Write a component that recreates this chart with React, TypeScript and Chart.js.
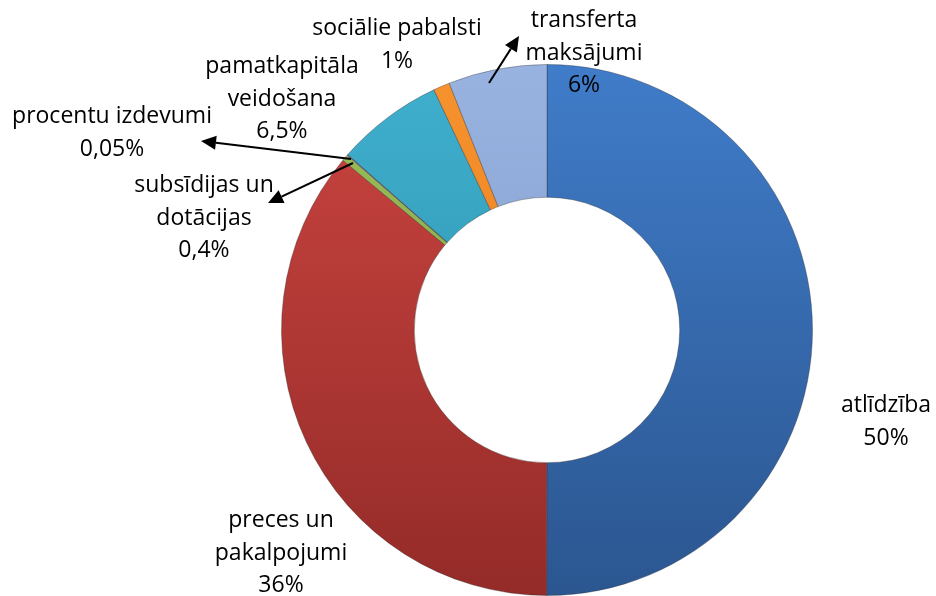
import React, { useEffect, useRef } from "react";
import { Chart, registerables } from "chart.js";

Chart.register(...registerables);

// ---- data ----
const categories = [
  "atlīdzība",
  "preces un\npakalpojumi",
  "subsīdijas un\ndotācijas",
  "procentu izdevumi",
  "pamatkapitāla\nveidošana",
  "sociālie pabalsti",
  "transferta\nmaksājumi",
];
const values = [50, 36, 0.4, 0.05, 6.5, 1, 6];

// ---- styles ----
const colorsTop = ["#407cc9", "#cc4541", "#9cc05a", "#8a6cb0", "#3fb0ce", "#f7932f", "#98b3e0"];
const colorsBottom = ["#2b5690", "#942b28", "#7a9a3e", "#6a4f8c", "#2a8aa6", "#e07818", "#7a96c6"];

// label anchor (centre x, first baseline y) in canvas pixels
const labelPos = [
  { x: 886, y: 412 },
  { x: 281, y: 527 },
  { x: 204, y: 192 },
  { x: 112, y: 123 },
  { x: 282, y: 73 },
  { x: 397, y: 35 },
  { x: 584, y: 27 },
];
const arrows = [
  { from: { x: 489, y: 83 }, to: { x: 519, y: 36 } },
  { from: { x: 351, y: 159 }, to: { x: 201, y: 141 } },
  { from: { x: 353, y: 163 }, to: { x: 268, y: 203 } },
];

const FONT = "23px 'Open Sans', Lato, sans-serif";
const LINE_H = 32.5;

const fmt = (v: number) => String(v).replace(".", ",") + "%";

const labelsPlugin = {
  id: "customLabels",
  afterDraw(chart: any) {
    const ctx = chart.ctx as CanvasRenderingContext2D;
    ctx.save();
    ctx.strokeStyle = "#000";
    ctx.fillStyle = "#000";
    ctx.lineWidth = 2;
    for (const a of arrows) {
      const dx = a.to.x - a.from.x;
      const dy = a.to.y - a.from.y;
      const len = Math.hypot(dx, dy);
      const ux = dx / len;
      const uy = dy / len;
      const headL = 15;
      const headW = 7;
      const bx = a.to.x - ux * headL;
      const by = a.to.y - uy * headL;
      ctx.beginPath();
      ctx.moveTo(a.from.x, a.from.y);
      ctx.lineTo(bx, by);
      ctx.stroke();
      ctx.beginPath();
      ctx.moveTo(a.to.x, a.to.y);
      ctx.lineTo(bx - uy * headW, by + ux * headW);
      ctx.lineTo(bx + uy * headW, by - ux * headW);
      ctx.closePath();
      ctx.fill();
    }
    ctx.font = FONT;
    ctx.textAlign = "center";
    ctx.textBaseline = "alphabetic";
    ctx.fillStyle = "#000";
    categories.forEach((name, i) => {
      const lines = [...name.split("\n"), fmt(values[i])];
      const p = labelPos[i];
      lines.forEach((ln, k) => ctx.fillText(ln, p.x, p.y + k * LINE_H));
    });
    ctx.restore();
  },
};

export default function App() {
  const ref = useRef<HTMLCanvasElement | null>(null);
  useEffect(() => {
    if (!ref.current) return;
    const chart = new Chart(ref.current, {
      type: "doughnut",
      data: {
        labels: categories,
        datasets: [
          {
            data: values,
            backgroundColor: (c: any) => {
              const ch = c.chart;
              const area = ch.chartArea;
              const i = c.dataIndex;
              if (!area) return colorsTop[i];
              const g = ch.ctx.createLinearGradient(0, area.top, 0, area.bottom);
              g.addColorStop(0, colorsTop[i]);
              g.addColorStop(1, colorsBottom[i]);
              return g;
            },
            borderColor: "rgba(40,40,40,0.35)",
            borderWidth: 1,
          },
        ],
      },
      options: {
        responsive: false,
        devicePixelRatio: 1,
        animation: false,
        cutout: "50%",
        layout: { padding: { left: 281, right: 123, top: 64, bottom: 0 } },
        plugins: {
          legend: { display: false },
          tooltip: { enabled: false },
        },
      },
      plugins: [labelsPlugin],
    });
    return () => chart.destroy();
  }, []);
  return (
    <div style={{ position: "absolute", left: 0, top: 0, width: 936, height: 596, background: "#fff" }}>
      <canvas ref={ref} width={936} height={596} style={{ display: "block" }} />
    </div>
  );
}
